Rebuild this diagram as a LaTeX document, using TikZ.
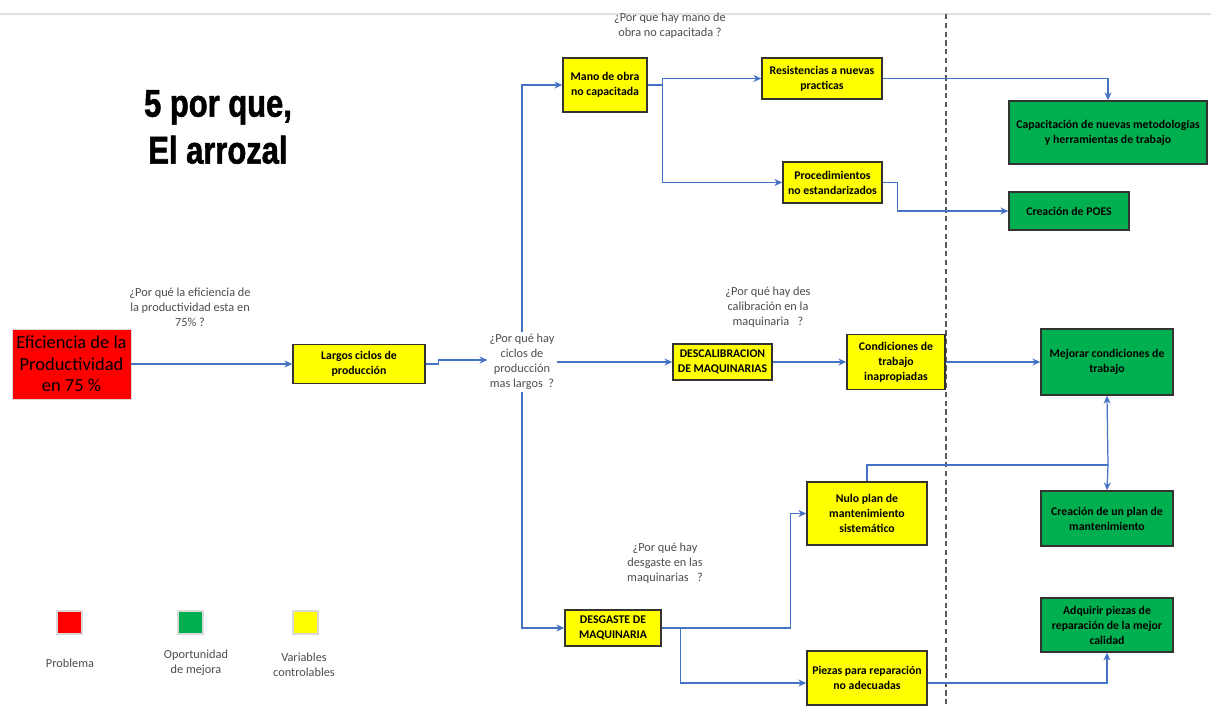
\documentclass[tikz,border=0pt]{standalone}
\usepackage{fontspec}
\setmainfont{Carlito}
\newfontfamily\titlefont[FakeStretch=0.8,FakeBold=1.4]{Liberation Sans}
\usepackage{tikz}
\usetikzlibrary{arrows.meta,positioning,calc}
\definecolor{boxred}{RGB}{255,0,0}
\definecolor{boxgreen}{RGB}{0,176,80}
\definecolor{boxyellow}{RGB}{255,255,0}
\definecolor{lineblue}{RGB}{68,114,196}
\definecolor{asktext}{gray}{0.3}

\begin{document}
\begin{tikzpicture}[x=0.02cm, y=-0.02cm,
    cause/.style={draw=black!80, line width=0.8pt, fill=boxyellow, align=center, inner sep=1pt,
        font=\fontsize{6.7}{8.5}\selectfont\bfseries},
    fix/.style={draw=black!80, line width=0.8pt, fill=boxgreen, align=center, inner sep=1pt,
        font=\fontsize{6.7}{8.5}\selectfont\bfseries},
    ask/.style={align=center, text=asktext, inner sep=1pt, font=\fontsize{7}{8.5}\selectfont},
    key/.style={draw=black!15, line width=0.6pt, minimum width=0.5cm, minimum height=0.46cm},
    link/.style={lineblue, line width=0.7pt},
    arr/.style={link, -{Stealth[length=4.5pt,width=4pt]}}]
        \useasboundingbox (0,0) rectangle (1211,707);
        \draw[black!12, line width=0.6pt] (0,14) -- (1211,14);
        \draw[densely dashed, black!65, line width=0.9pt] (946,14) -- (946,707);
        % Title
        \node (title) [align=center, font=\titlefont\fontsize{22}{26.7}\selectfont\bfseries] at (218,127) {5 por que,\\El arrozal};
        % Problem
        \node (prob) [draw=black!15, fill=boxred, align=center, inner sep=1pt, minimum width=2.38cm, minimum height=1.4cm,
            font=\fontsize{10.5}{12.3}\selectfont] at (71.5,364) {Eficiencia de la\\Productividad\\en 75 \%};
        \node (q1) [ask] at (190,307) {¿Por qué la eficiencia de\\la productividad esta en\\75\% ?};
        \node (largos) [cause, minimum width=2.64cm, minimum height=0.78cm] at (359,364) {Largos ciclos de\\producción};
        \node (q2) [ask] at (522,362) {¿Por qué hay\\ciclos de\\producción\\mas largos \ ?};
        % Upper branch
        \node (mano) [cause, minimum width=1.68cm, minimum height=1.08cm] at (605,85) {Mano de obra\\no capacitada};
        \node (q0) [ask] at (670,26) {¿Por que hay mano de\\obra no capacitada ?};
        \node (resist) [cause, minimum width=2.4cm, minimum height=0.82cm] at (822,78.5) {Resistencias a nuevas\\practicas};
        \node (proc) [cause, minimum width=1.98cm, minimum height=0.82cm] at (832.5,182.5) {Procedimientos\\no estandarizados};
        \node (capac) [fix, minimum width=3.96cm, minimum height=1.26cm] at (1108,132.5) {Capacitación de nuevas metodologías\\y herramientas de trabajo};
        \node (poes) [fix, minimum width=2.4cm, minimum height=0.76cm] at (1069,211) {Creación de POES};
        % Middle branch
        \node (descal) [cause, minimum width=1.98cm, minimum height=0.72cm] at (722.5,362) {DESCALIBRACION\\DE MAQUINARIAS};
        \node (q3) [ask] at (768,307) {¿Por qué hay des\\calibración en la\\maquinaria \ \ ?};
        \node (cond) [cause, minimum width=1.96cm, minimum height=1.1cm] at (896,362) {Condiciones de\\trabajo\\inapropiadas};
        \node (mejorar) [fix, minimum width=2.64cm, minimum height=1.32cm] at (1107,362) {Mejorar condiciones de\\trabajo};
        % Lower branch
        \node (desg) [cause, minimum width=1.92cm, minimum height=0.72cm] at (613,628) {DESGASTE DE\\MAQUINARIA};
        \node (q4) [ask] at (665,563) {¿Por qué hay\\desgaste en las\\maquinarias \ \ ?};
        \node (nulo) [cause, minimum width=2.4cm, minimum height=1.26cm] at (867,513.5) {Nulo plan de\\mantenimiento\\sistemático};
        \node (piezas) [cause, minimum width=2.4cm, minimum height=1.08cm] at (867,678) {Piezas para reparación\\no adecuadas};
        \node (cplan) [fix, minimum width=2.64cm, minimum height=1.1cm] at (1107,518.5) {Creación de un plan de\\mantenimiento};
        \node (adq) [fix, minimum width=2.64cm, minimum height=1.08cm] at (1107,625) {Adquirir piezas de\\reparación de la mejor\\calidad};
        % Links
        \draw[arr] (prob) -- (largos);
        \draw[arr] (largos.east) -- ++(13,0) |- ($(q2.west)+(0,-2)$);
        \draw[arr] (q2.north) |- (mano.west);
        \draw[arr] (q2.south) |- (desg.west);
        \draw[arr] (q2.east) -- (descal.west);
        \draw[arr] (mano.east) -- ++(15,0) |- (resist.west);
        \draw[arr] (mano.east) -- ++(15,0) |- (proc.west);
        \draw[arr] (resist.east) -| (capac.north);
        \draw[arr] (proc.east) -- ++(15,0) |- (poes.west);
        \draw[arr] (descal) -- (cond);
        \draw[arr] (cond) -- (mejorar);
        \coordinate (split) at (1108,465);
        \draw[link] (nulo.north) |- (split);
        \draw[arr] (split) -- (mejorar.south);
        \draw[arr] (split) -- (cplan.north);
        \draw[arr] (desg.east) -- ++(129,0) |- (nulo.west);
        \draw[arr] (desg.east) -- ++(19,0) |- ($(piezas.west)+(0,5)$);
        \draw[arr] ($(piezas.east)+(0,5)$) -| (adq.south);
        % Legend
        \node (kred) [key, fill=boxred] at (69.5,622.5) {};
        \node (kgreen) [key, fill=boxgreen] at (190.5,622.5) {};
        \node (kyellow) [key, fill=boxyellow] at (305.5,622.5) {};
        \node (lred) [ask] at (70,663) {Problema};
        \node (lgreen) [ask] at (196,663) {Oportunidad\\de mejora};
        \node (lyellow) [ask] at (304,665) {Variables\\controlables};
\end{tikzpicture}
\end{document}
